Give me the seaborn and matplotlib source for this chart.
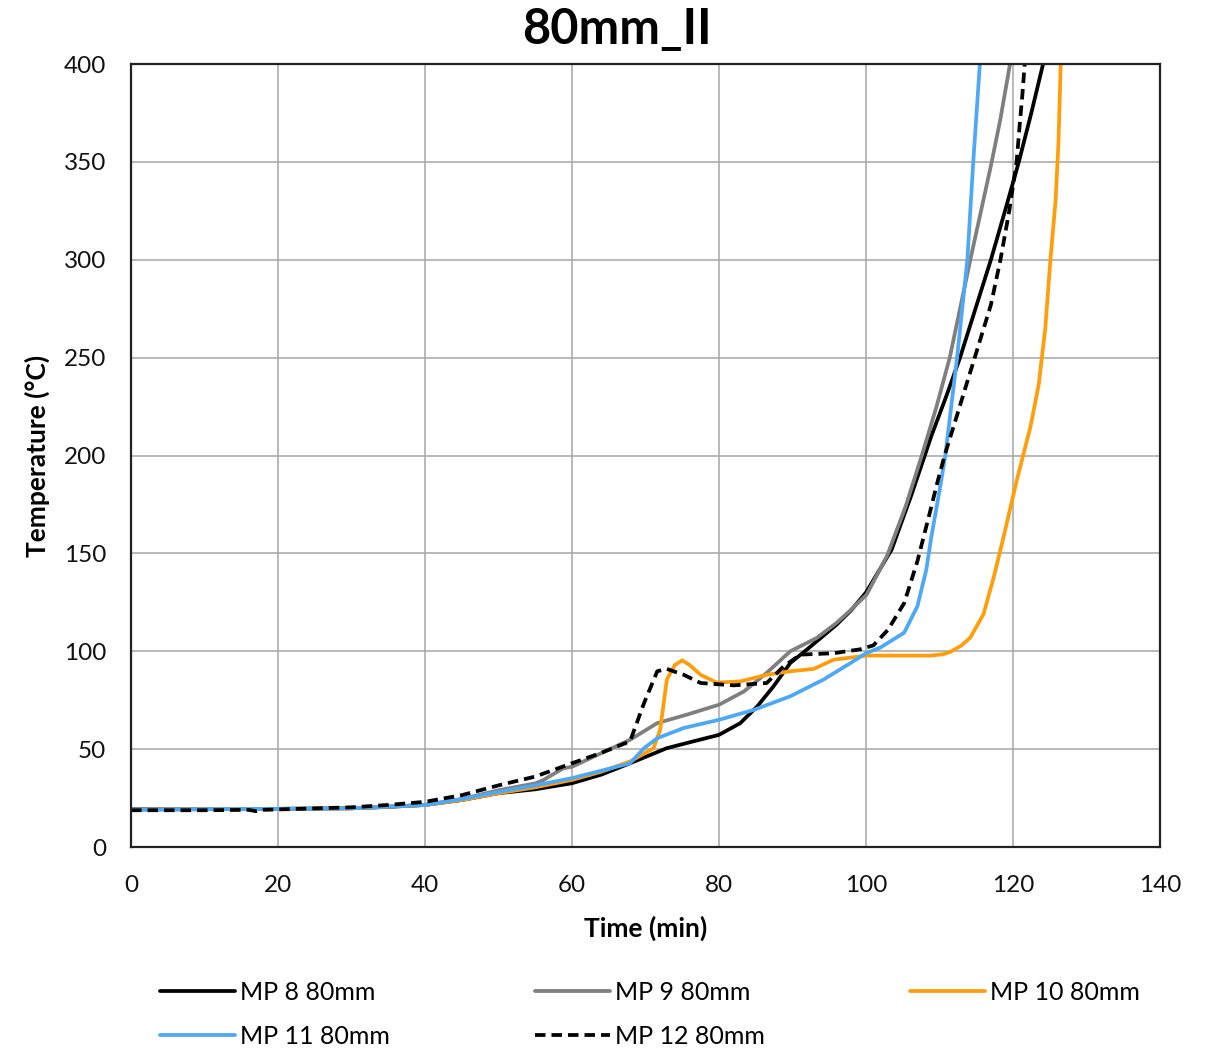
import numpy as np
import pandas as pd
import matplotlib
matplotlib.use("Agg")
import matplotlib.pyplot as plt
from matplotlib.ticker import MultipleLocator
import seaborn as sns

# MP 8 80mm
t_mp8 = [0, 10, 20, 30, 35, 40, 45, 50, 55, 60, 64, 67.9, 72.9, 76, 80, 82.9, 85.2, 87.4, 89.7,
         92, 96, 98, 100, 103.5, 106.2, 108.9, 110.9, 112.8, 114.9, 117, 119, 120.8, 122.5, 124.1]
T_mp8 = [19.5, 19.5, 19.5, 19.8, 20.5, 21.5, 24, 27.5, 29.5, 32.6, 37, 42.8, 50.5, 53.5, 57.3, 63.3, 71.8, 82, 94,
         101, 113.6, 121, 130, 152, 180, 210, 230, 250, 275, 300, 326, 350, 375, 400]

# MP 9 80mm
t_mp9 = [0, 10, 20, 30, 40, 45, 50, 55, 56, 58.8, 60, 64, 67.9, 71.6, 75.6, 80, 83.4, 86.5, 89.7, 93.3,
         96, 97.9, 100.1, 102.9, 105.4, 107.6, 109.6, 111.4, 114.2, 117, 118.3, 119.6]
T_mp9 = [19.5, 19.5, 19.5, 19.8, 21.5, 24.5, 29, 32.5, 34, 40.2, 41, 48, 54.8, 63.3, 67.6, 72.7, 79.5, 89, 100, 106.8,
         114.5, 121, 129, 149, 174, 200, 225, 250, 300, 348, 372, 400]

# MP 10 80mm
t_mp10 = [0, 10, 20, 30, 40, 45, 50, 55, 60, 64, 67.9, 71.1, 72, 72.9, 74, 75, 76, 77.5, 79.7, 82.9,
          86.5, 89.7, 92.9, 95.6, 100.1, 105, 108.8, 110.5, 111.5, 113, 114.2, 116, 117.4, 118.7, 120.5,
          122.4, 123.5, 124.4, 125.1, 125.8, 126.2, 126.5]
T_mp10 = [19, 19.3, 19.5, 19.8, 21.5, 24, 27.5, 30.5, 34.3, 38.5, 43.7, 50.5, 60, 85.5, 93, 95.4, 93, 88, 84, 84.6,
          88, 89.8, 91, 95.7, 97.8, 97.8, 97.8, 98.5, 99.7, 103, 107, 119, 138, 158, 187,
          215, 236, 265, 300, 330, 360, 400]

# MP 11 80mm
t_mp11 = [0, 10, 20, 30, 40, 45, 50.2, 55, 60, 64, 67.9, 69.8, 71.6, 75.2, 80, 84.7, 89.7, 94.2, 97.9,
          100, 102, 105.2, 107, 108.2, 108.9, 110.1, 110.8, 111.6, 112.4, 113.1, 113.8, 114.6, 115.5]
T_mp11 = [19, 19.3, 19.5, 19.8, 21.5, 24.5, 28.3, 31.5, 35.2, 39, 42.8, 50.5, 55.6, 60.8, 65, 70, 77, 85.5, 94,
          99, 102, 109.5, 123, 141.5, 158.5, 184, 200, 225, 250, 275, 300, 350, 400]

# MP 12 80mm
t_mp12 = [0, 10, 16, 17, 18, 20, 30, 35, 40, 45, 50.2, 55, 60, 63.9, 67.9, 69.8, 71.6, 72.9, 75.2, 77.5,
          82, 86.5, 88.8, 91.1, 95.6, 99.2, 101, 103, 105.2, 107, 108.5, 109.7, 110.7, 112.1, 113.4,
          114.8, 117, 118.3, 119.5, 120.5, 120.9, 121.3, 121.6]
T_mp12 = [18.8, 18.8, 19, 18.3, 19, 19.2, 20.3, 21.5, 23.1, 26.5, 31.7, 36, 42.8, 48, 54, 73.5, 89.8, 91, 88, 83.8,
          82.6, 83.8, 92.3, 98.3, 99, 101, 103, 111, 124.6, 146, 168, 186, 200, 217, 233,
          250, 277, 300, 325, 350, 368, 385, 400]

series = [
    ("MP 8 80mm", t_mp8, T_mp8, "#000000", "-"),
    ("MP 9 80mm", t_mp9, T_mp9, "#7f7f7f", "-"),
    ("MP 10 80mm", t_mp10, T_mp10, "#ff9e0d", "-"),
    ("MP 11 80mm", t_mp11, T_mp11, "#4ea8f5", "-"),
    ("MP 12 80mm", t_mp12, T_mp12, "#000000", "--"),
]

sns.set_style("white")
plt.rcParams['font.family'] = ['Lato', 'DejaVu Sans']
plt.rcParams['text.color'] = 'black'

fig = plt.figure(figsize=(12.09, 10.5), dpi=100)
ax = fig.add_axes([0.1084, 0.1933, 0.851, 0.7457])

handles = {}
for name, t, T, color, ls in series:
    df = pd.DataFrame({"Time": t, "Temp": T})
    sns.lineplot(data=df, x="Time", y="Temp", ax=ax, color=color, linewidth=2.7,
                 estimator=None, sort=False, label=name)
    line = ax.get_lines()[-1]
    if ls == "--":
        line.set_dashes([2.8, 1.6])
    handles[name] = line

ax.set_xlim(0, 140)
ax.set_ylim(0, 400)
ax.xaxis.set_major_locator(MultipleLocator(20))
ax.xaxis.set_minor_locator(MultipleLocator(4))
ax.yaxis.set_major_locator(MultipleLocator(50))
ax.grid(True, which="major", color="#a6a6a6", linewidth=1.1)
ax.set_axisbelow(True)
for s in ax.spines.values():
    s.set_color("#222222")
    s.set_linewidth(1.6)
ax.tick_params(axis="both", which="major", length=0, labelsize=17.5, colors="#111111")
ax.tick_params(axis="x", which="major", pad=20)
ax.tick_params(axis="y", which="major", pad=18)
ax.tick_params(axis="x", which="minor", direction="in", length=7, width=1, color="#555555")

ax.set_xlabel("Time (min)", fontsize=19, fontweight="bold", labelpad=14, color="black")
ax.set_ylabel("Temperature (°C)", fontsize=19, fontweight="bold", labelpad=10, color="black")
fig.text(0.51, 0.972, "80mm_II", ha="center", va="center", fontsize=35, fontweight="bold", color="black")

ax.get_legend().remove()
order = ["MP 8 80mm", "MP 11 80mm", "MP 9 80mm", "MP 12 80mm", "MP 10 80mm"]
fig.legend([handles[k] for k in order], order, ncol=3, loc="center left",
           bbox_to_anchor=(0.114, 0.034), frameon=False, fontsize=18,
           handlelength=3.0, handletextpad=0.2, columnspacing=5.8, labelspacing=0.85)

fig.savefig("out.png", dpi=100)
